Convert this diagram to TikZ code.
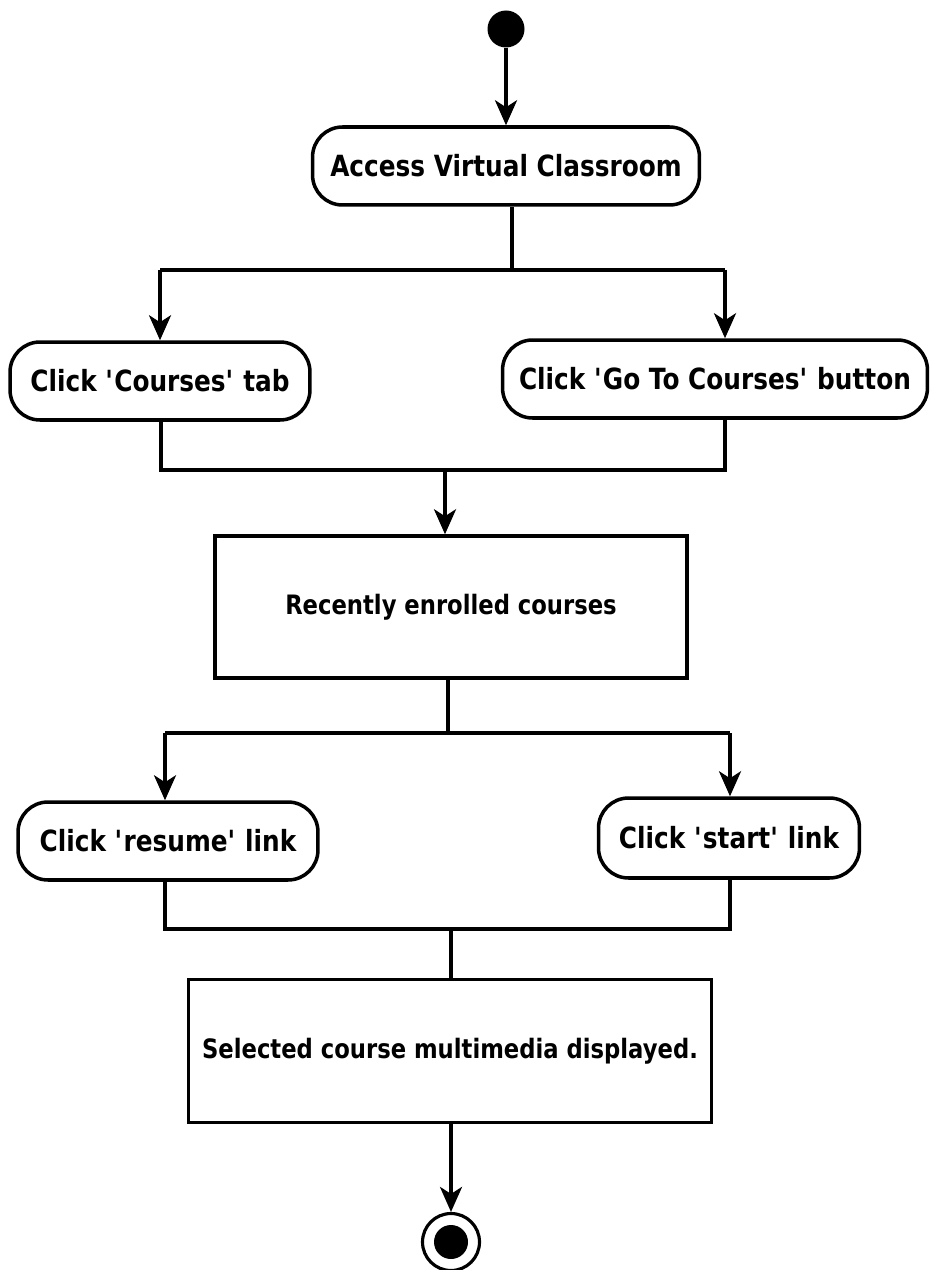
\documentclass[tikz,border=0pt]{standalone}
\usepackage{fontspec}
\setmainfont{DejaVu Sans}[FakeStretch=0.85]
\usepackage{tikz}
\usetikzlibrary{arrows.meta,positioning,calc}
\tikzset{
  action/.style={draw,line width=2pt,rounded corners=0.6cm,minimum height=1.56cm,
    inner sep=0pt,font=\fontsize{16.6}{18}\selectfont\bfseries},
  panel/.style={draw,line width=2pt,inner sep=0pt,
    font=\fontsize{15.2}{17}\selectfont\bfseries},
  flow/.style={line width=2pt},
  startdot/.style={circle,fill,minimum size=0.74cm,inner sep=0pt},
  enddot/.style={circle,draw,line width=1.8pt,minimum size=1.14cm,inner sep=0pt}
}
\tikzstyle{arrow} = [flow,-{Stealth[length=0.5cm,width=0.44cm,inset=0.14cm]}]

\begin{document}
\begin{tikzpicture}[x=0.02cm,y=-0.02cm]
  \useasboundingbox (0,0) rectangle (930,1270);
  % activities
  \node[startdot] (start) at (506,29) {};
  \node[action,minimum width=7.74cm] (access) at (506,166) {Access Virtual Classroom};
  \node[action,minimum width=6cm] (courses) at (160,381) {Click \textquotesingle Courses\textquotesingle{} tab};
  \node[action,minimum width=8.5cm] (goto) at (715,379) {Click \textquotesingle Go To Courses\textquotesingle{} button};
  \node[panel,minimum width=9.44cm,minimum height=2.84cm] (recent) at (451,607) {Recently enrolled courses};
  \node[action,minimum width=6cm] (resume) at (168,841) {Click \textquotesingle resume\textquotesingle{} link};
  \node[action,minimum width=5.22cm,minimum height=1.6cm] (startlink) at (729,838) {Click \textquotesingle start\textquotesingle{} link};
  \node[panel,minimum width=10.46cm,minimum height=2.86cm] (shown) at (450,1051) {Selected course multimedia displayed.};
  \node[enddot] (stop) at (451,1242) {};
  \fill (stop) circle (0.34cm);
  % branch points
  \coordinate (fork1) at (512,270);
  \coordinate (fork1L) at (160,270);
  \coordinate (fork1R) at (725,270);
  \coordinate (join1) at (445,470);
  \coordinate (join1L) at (161,470);
  \coordinate (join1R) at (725,470);
  \coordinate (fork2) at (448,733);
  \coordinate (fork2L) at (165,733);
  \coordinate (fork2R) at (730,733);
  \coordinate (join2) at (451,929);
  \coordinate (join2L) at (165,929);
  \coordinate (join2R) at (730,929);
  % flows
  \draw[arrow] (start) -- (start |- access.north);
  \draw[flow] (access.south -| fork1) -- (fork1);
  \draw[flow] (fork1L) -- (fork1R);
  \draw[arrow] (fork1L) -- (fork1L |- courses.north);
  \draw[arrow] (fork1R) -- (fork1R |- goto.north);
  \draw[flow] (courses.south -| join1L) -- (join1L) -- (join1R) -- (goto.south -| join1R);
  \draw[arrow] (join1) -- (join1 |- recent.north);
  \draw[flow] (recent.south -| fork2) -- (fork2);
  \draw[flow] (fork2L) -- (fork2R);
  \draw[arrow] (fork2L) -- (fork2L |- resume.north);
  \draw[arrow] (fork2R) -- (fork2R |- startlink.north);
  \draw[flow] (resume.south -| join2L) -- (join2L) -- (join2R) -- (startlink.south -| join2R);
  \draw[flow] (join2) -- (join2 |- shown.north);
  \draw[arrow] (shown.south -| stop) -- (stop);
\end{tikzpicture}
\end{document}
